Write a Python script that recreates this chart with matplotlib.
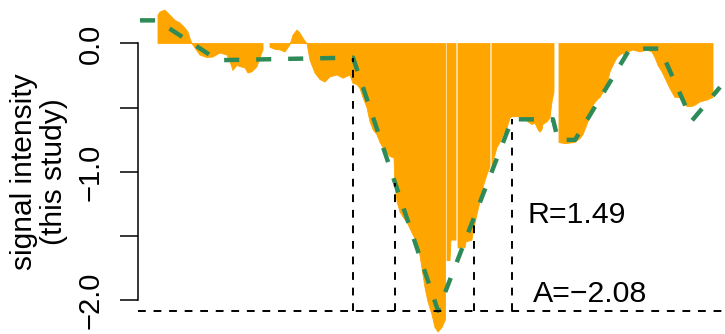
import numpy as np
import matplotlib.pyplot as plt

plt.rcParams['font.family'] = ['Liberation Sans', 'DejaVu Sans']

nan = np.nan
# signal per position (nan = no data, leaves a gap)
pos = [20, 22, 27, 32, 37, 42, 47, 50, 52, 54, 57, 62, 69, 75, 82, 89, 92, 95, 99, 102,
       107, 110, 114, 119, 123, 125, 128,
       132, 137, 142, 147, 152, 155, 159, 162, 166, 169, 172, 177, 182, 187, 192, 199, 205,
       212, 215, 219, 222, 225, 229, 232, 235, 239, 242, 245, 249, 252, 256, 257, 259, 262,
       265, 269, 272, 275, 279, 282, 284, 287, 290, 294, 297, 300, 304, 307.5, 308.2,
       309, 312, 313, 318, 319,
       320, 327, 328, 334, 335, 339, 342, 345, 349, 352, 353,
       354, 359, 362, 365, 369, 372, 374, 382, 387, 390, 394, 397, 400, 402, 404, 405, 409,
       412, 414, 416, 418,
       421, 427, 437, 442, 445, 449, 452, 455, 459, 462, 465, 469, 472, 475, 479, 482, 485,
       487, 490, 495, 502, 509, 514, 517, 520, 524, 527, 530, 534, 537, 542, 545, 549, 554,
       557, 562, 569, 575]
signal = [0.22, 0.245, 0.26, 0.22, 0.18, 0.16, 0.12, 0.09, 0.04, 0.0, -0.035, -0.09, -0.11,
          -0.105, -0.074, -0.09, -0.14, -0.21, -0.17, -0.18, -0.19, -0.23, -0.22, -0.18, -0.09,
          -0.05, nan,
          -0.03, -0.045, -0.05, -0.066, -0.01, 0.065, 0.105, 0.08, 0.03, 0.0, -0.13, -0.23,
          -0.28, -0.30, -0.26, -0.245, -0.27, -0.245, -0.31, -0.32, -0.35, -0.42, -0.50, -0.61,
          -0.67, -0.71, -0.77, -0.81, -0.85, -0.88, -0.89, -1.10, -1.23, -1.31, -1.35, -1.39,
          -1.44, -1.49, -1.545, -1.65, -1.75, -1.90, -2.01, -2.11, -2.21, -2.245, -2.21, -2.15,
          nan,
          -1.69, -1.69, -1.53, -1.53, nan,
          -1.59, -1.59, -1.545, -1.53, -1.47, -1.33, -1.23, -1.12, -1.02, -0.96, nan,
          -0.95, -0.81, -0.77, -0.71, -0.66, -0.58, -0.57, -0.57, -0.58, -0.61, -0.63, -0.62,
          -0.67, -0.69, -0.67, -0.63, -0.61, -0.58, -0.455, -0.38, nan,
          -0.77, -0.78, -0.77, -0.74, -0.71, -0.63, -0.57, -0.48, -0.44, -0.42, -0.38, -0.32,
          -0.22, -0.17, -0.11, -0.09, -0.074, -0.11, -0.066, -0.05, -0.066, -0.05, -0.066,
          -0.11, -0.17, -0.22, -0.27, -0.32, -0.38, -0.42, -0.42, -0.455, -0.49, -0.49, -0.48,
          -0.455, -0.44, -0.42]

# segmented fit
fit_pos = [2, 19, 80, 215, 300, 374, 415, 420, 437, 492, 522, 554, 582]
fit_val = [0.18, 0.18, -0.13, -0.11, -2.08, -0.59, -0.59, -0.75, -0.75, -0.04, -0.04, -0.60, -0.34]

amp = -2.08
ratio = 1.49
marks = [215, 257, 336, 374]

fig = plt.figure(figsize=(7.25, 3.34), dpi=100)
ax = fig.add_axes([138 / 725, 0, 1 - 138 / 725, 1])

ax.fill_between(pos, 0, signal, color='#FFA500', linewidth=0.6, edgecolor='#FFA500')
ax.plot(fit_pos, fit_val, color='#2E8B57', linewidth=3.2, dashes=(3.4, 3.8))

ax.axhline(amp, color='black', linewidth=1.4, dashes=(4, 4))
tops = np.interp(marks, fit_pos, fit_val)
ax.vlines(marks, amp, tops, color='black', linewidth=1.4, linestyles=(0, (4, 4)))

ax.text(389, -1.397, 'R=%.2f' % ratio, fontsize=21.8, va='baseline', ha='left')
ax.text(395, -2.01, 'A=\u2212%.2f' % abs(amp), fontsize=21.8, va='baseline', ha='left')

ax.set_xlim(0, 587)
ax.set_ylim(-2.2607, 0.3385)
for s in ['top', 'right', 'bottom']:
    ax.spines[s].set_visible(False)
ax.spines['left'].set_bounds(-2, 0)
ax.spines['left'].set_linewidth(1.1)
ax.set_xticks([])
ax.set_yticks([0, -0.5, -1, -1.5, -2])
ax.set_yticklabels(['0.0', '', '\u22121.0', '', '\u22122.0'], rotation=90, va='center')
ax.tick_params(axis='y', direction='out', length=13, width=1.1, pad=11, labelsize=21)

fig.text(39 / 725, 1 - 172 / 334, 'signal intensity\n(this study)', rotation=90,
         ha='center', va='center', multialignment='center', fontsize=21.5, linespacing=1.1)

fig.savefig('out.png', dpi=100)
